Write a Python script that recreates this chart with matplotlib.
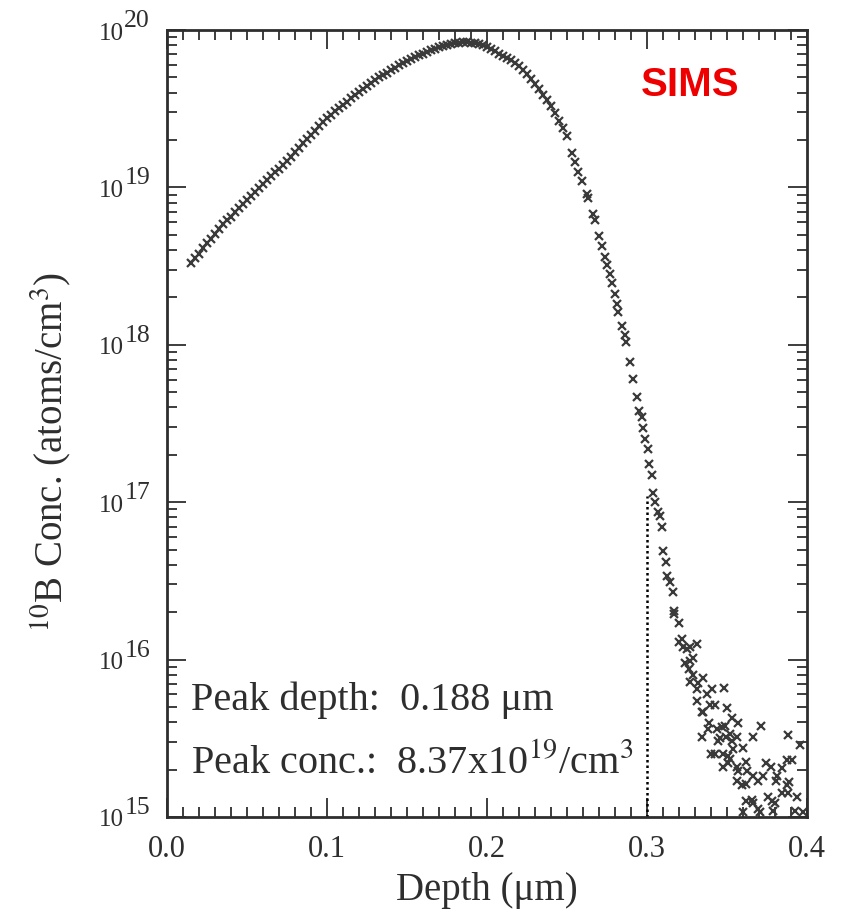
import matplotlib
matplotlib.use("Agg")
import numpy as np
import matplotlib.pyplot as plt
from matplotlib.ticker import FixedLocator, LogLocator, MultipleLocator, NullFormatter
from matplotlib.transforms import ScaledTranslation

# ------------------------------------------------------------
# SIMS data: depth (um) and log10 concentration (atoms/cm^3)
# ------------------------------------------------------------

# smooth part of the profile (surface -> just past the peak)
depth_main = [
    0.0150, 0.0175, 0.0200, 0.0225, 0.0250, 0.0275, 0.0300, 0.0325, 0.0350, 0.0375,
    0.0400, 0.0425, 0.0450, 0.0475, 0.0500, 0.0525, 0.0550, 0.0575, 0.0600, 0.0625,
    0.0650, 0.0675, 0.0700, 0.0725, 0.0750, 0.0775, 0.0800, 0.0825, 0.0850, 0.0875,
    0.0900, 0.0925, 0.0950, 0.0975, 0.1000, 0.1025, 0.1050, 0.1075, 0.1100, 0.1125,
    0.1150, 0.1175, 0.1200, 0.1225, 0.1250, 0.1275, 0.1300, 0.1325, 0.1350, 0.1375,
    0.1400, 0.1425, 0.1450, 0.1475, 0.1500, 0.1525, 0.1550, 0.1575, 0.1600, 0.1625,
    0.1650, 0.1675, 0.1700, 0.1725, 0.1750, 0.1775, 0.1800, 0.1825, 0.1850, 0.1875,
    0.1900, 0.1925, 0.1950, 0.1975, 0.2000, 0.2025, 0.2050, 0.2075, 0.2100, 0.2125,
    0.2150, 0.2175, 0.2200, 0.2225, 0.2250, 0.2275, 0.2300, 0.2325, 0.2350, 0.2375,
    0.2400, 0.2425, 0.2450, 0.2475, 0.2500,
]
logc_main = [
    18.52, 18.55, 18.58, 18.615, 18.645, 18.675, 18.705, 18.735, 18.765, 18.79,
    18.815, 18.845, 18.87, 18.895, 18.92, 18.945, 18.97, 18.995, 19.02, 19.045,
    19.07, 19.095, 19.12, 19.145, 19.17, 19.195, 19.225, 19.25, 19.28, 19.31,
    19.335, 19.36, 19.39, 19.415, 19.44, 19.46, 19.485, 19.505, 19.525, 19.545,
    19.565, 19.585, 19.605, 19.625, 19.645, 19.665, 19.685, 19.70, 19.715, 19.73,
    19.745, 19.76, 19.775, 19.79, 19.805, 19.815, 19.83, 19.84, 19.85, 19.86,
    19.87, 19.88, 19.89, 19.897, 19.905, 19.91, 19.915, 19.92, 19.922, 19.923,
    19.92, 19.915, 19.91, 19.905, 19.895, 19.88, 19.865, 19.85, 19.835, 19.825,
    19.81, 19.79, 19.77, 19.745, 19.72, 19.69, 19.66, 19.625, 19.59, 19.555,
    19.515, 19.47, 19.425, 19.375, 19.325,
]

# steep fall-off
depth_fall = [
    0.2531, 0.2550, 0.2569, 0.2594, 0.2625, 0.2631, 0.2663, 0.2675, 0.2700, 0.2719,
    0.2738, 0.2750, 0.2769, 0.2781, 0.2800, 0.2813, 0.2819, 0.2844, 0.2863, 0.2869,
    0.2894, 0.2913, 0.2938, 0.2950, 0.2969, 0.2975, 0.2988, 0.3006, 0.3013, 0.3031,
    0.3038, 0.3050, 0.3069, 0.3081, 0.3094, 0.3100, 0.3119, 0.3125, 0.3144, 0.3163,
]
logc_fall = [
    19.22, 19.16, 19.10, 19.04, 18.96, 18.93, 18.83, 18.79, 18.69, 18.63,
    18.56, 18.51, 18.45, 18.39, 18.32, 18.26, 18.21, 18.12, 18.06, 18.02,
    17.89, 17.78, 17.67, 17.58, 17.54, 17.47, 17.40, 17.34, 17.24, 17.17,
    17.06, 17.00, 16.94, 16.91, 16.84, 16.69, 16.62, 16.53, 16.49, 16.43,
]

# noisy tail near the detection limit
depth_tail = [
    0.3169, 0.3169, 0.3200, 0.3200, 0.3219, 0.3225, 0.3250, 0.3269, 0.3313, 0.3238,
    0.3269, 0.3288, 0.3263, 0.3288, 0.3269, 0.3350, 0.3313, 0.3319, 0.3406, 0.3481,
    0.3375, 0.3313, 0.3394, 0.3425, 0.3344, 0.3350, 0.3500, 0.3388, 0.3531, 0.3569,
    0.3381, 0.3438, 0.3469, 0.3344, 0.3488, 0.3519, 0.3563, 0.3456, 0.3494, 0.3444,
    0.3531, 0.3663, 0.3713, 0.3881, 0.3956, 0.3400, 0.3425, 0.3475, 0.3506, 0.3538,
    0.3600, 0.3519, 0.3475, 0.3506, 0.3563, 0.3569, 0.3619, 0.3625, 0.3563, 0.3594,
    0.3619, 0.3663, 0.3694, 0.3725, 0.3744, 0.3775, 0.3813, 0.3806, 0.3844, 0.3875,
    0.3906, 0.3888, 0.3875, 0.3619, 0.3656, 0.3663, 0.3694, 0.3756, 0.3781, 0.3800,
    0.3844, 0.3881, 0.3938, 0.3706, 0.3788, 0.3925, 0.3975, 0.3600,
]
logc_tail = [
    16.31, 16.29, 16.23, 16.11, 16.13, 16.08, 16.07, 16.08, 16.10, 15.98,
    15.99, 16.01, 15.94, 15.90, 15.86, 15.88, 15.81, 15.85, 15.81, 15.82,
    15.78, 15.74, 15.71, 15.71, 15.67, 15.67, 15.69, 15.60, 15.63, 15.60,
    15.56, 15.56, 15.57, 15.51, 15.58, 15.53, 15.51, 15.50, 15.51, 15.48,
    15.48, 15.51, 15.58, 15.52, 15.46, 15.40, 15.40, 15.40, 15.39, 15.43,
    15.44, 15.37, 15.32, 15.34, 15.32, 15.29, 15.35, 15.29, 15.23, 15.20,
    15.21, 15.26, 15.23, 15.26, 15.34, 15.32, 15.26, 15.23, 15.31, 15.36,
    15.36, 15.22, 15.20, 15.10, 15.11, 15.09, 15.05, 15.13, 15.10, 15.09,
    15.15, 15.15, 15.13, 15.03, 15.04, 15.04, 15.03, 15.03,
]

# decade exponents for the y tick labels
y_exponents = [15, 16, 17, 18, 19, 20]

# dotted marker line at 0.3 um
MARK_DEPTH = 0.3
MARK_TOP = 1.1e17

# ------------------------------------------------------------
# THEME
# ------------------------------------------------------------
plt.rcParams["font.family"] = "Liberation Serif"
plt.rcParams["mathtext.fontset"] = "stix"

INK = "#2e2e2e"

depth = np.array(depth_main + depth_fall + depth_tail)
conc = 10 ** np.array(logc_main + logc_fall + logc_tail)

fig = plt.figure(figsize=(8.42, 9.2), dpi=100)
ax = fig.add_axes([0.1983, 0.1109, 0.7601, 0.8554])

ax.plot(depth, conc, linestyle="none", marker="x", markersize=5.5,
        markeredgewidth=1.6, color="#3a3a3a")

ax.plot([MARK_DEPTH, MARK_DEPTH], [1e15, MARK_TOP], linestyle=(0, (1, 1.2)),
        color="black", linewidth=1.8)

ax.set_yscale("log")
ax.set_xlim(0.0, 0.4)
ax.set_ylim(1e15, 1e20)

ax.xaxis.set_major_locator(MultipleLocator(0.1))
ax.xaxis.set_minor_locator(MultipleLocator(0.01))
ax.xaxis.set_major_formatter(plt.FuncFormatter(lambda v, p: f"{v:.1f}"))

# y decades: "10" as tick label, exponent drawn as its own text
decades = [10.0 ** e for e in y_exponents]
ax.yaxis.set_major_locator(FixedLocator(decades))
ax.yaxis.set_major_formatter(plt.FuncFormatter(lambda v, p: "10"))
ax.yaxis.set_minor_locator(LogLocator(base=10, subs=np.arange(2, 10), numticks=20))
ax.yaxis.set_minor_formatter(NullFormatter())

ax.tick_params(which="both", direction="in", top=True, right=True,
               width=1.3, colors=INK)
ax.tick_params(which="major", length=14)
ax.tick_params(which="minor", length=7)
ax.tick_params(axis="x", which="major", labelsize=22, pad=12)
ax.tick_params(axis="y", which="major", labelsize=18, pad=31)

exp_shift = ax.get_yaxis_transform() + ScaledTranslation(-0.17, 0.04, fig.dpi_scale_trans)
for e in y_exponents:
    ax.text(0, 10.0 ** e, str(e), transform=exp_shift, ha="right", va="baseline",
            fontsize=18.5, color=INK, clip_on=False)

for s in ax.spines.values():
    s.set_linewidth(2.0)
    s.set_color(INK)

ax.set_xlabel("Depth (\u03bcm)", fontsize=28, color=INK, labelpad=6)
ax.set_ylabel(r"$^{10}$B Conc. (atoms/cm$^{3}$)", fontsize=28, color=INK)
ax.yaxis.set_label_coords(-0.145, 0.465)

ax.text(0.0150, 10 ** 15.686, "Peak depth:  0.188 \u03bcm", fontsize=29,
        color=INK, va="baseline")
ax.text(0.0150, 10 ** 15.286, r"Peak conc.:  8.37x10$^{19}$/cm$^{3}$",
        fontsize=29, color=INK, va="baseline")

ax.text(0.327, 10 ** 19.66, "SIMS", fontsize=29, fontweight="bold",
        color="#ee0000", family="Liberation Sans", ha="center", va="center")

fig.savefig("out.png", dpi=100)
